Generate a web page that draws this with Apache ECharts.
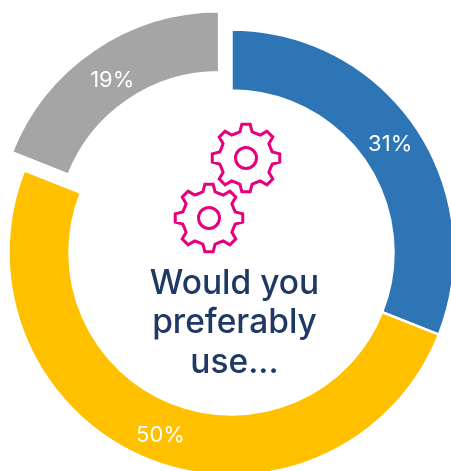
<!DOCTYPE html>
<html>
<head>
<meta charset="utf-8">
<style>html,body{margin:0;padding:0;background:#fff}#chart{width:451px;height:471px}</style>
<script src="https://cdn.jsdelivr.net/npm/echarts@6/dist/echarts.min.js"></script>
</head>
<body>
<div id="chart"></div>
<script>
// Share of respondents per option, clockwise from twelve o'clock
const shares = [31, 50, 19];
const sliceColors = ['#2E75B6', '#FFC000', '#A5A5A5'];
const detachedSlice = 2;
const centreLines = ['Would you', 'preferably', 'use...'];
// Small corrections to the label anchors inside each ring segment
const labelNudges = [[-3, 2], [1, 1], [3, 8]];

const chart = echarts.init(document.getElementById('chart'), null, { renderer: 'canvas' });

// Outline of an eight-toothed cog as a closed polygon around (cx, cy)
function cogPoints(cx, cy) {
  const tipR = 34, rootR = 27, tipHalf = 7, rootHalf = 13;
  const pts = [];
  for (let i = 0; i < 8; i++) {
    const a = i * 45;
    [[-rootHalf, rootR], [-tipHalf, tipR], [tipHalf, tipR], [rootHalf, rootR], [22.5, rootR - 0.5]].forEach(([off, r]) => {
      const t = (a + off - 90) * Math.PI / 180;
      pts.push([cx + r * Math.cos(t), cy + r * Math.sin(t)]);
    });
  }
  return pts;
}

const cogStyle = { stroke: '#E6007E', lineWidth: 3, fill: 'none', lineJoin: 'miter' };
const cogCentres = [[246, 158], [209, 218]];
const cogs = [];
cogCentres.forEach(([cx, cy]) => {
  cogs.push({ type: 'polygon', shape: { points: cogPoints(cx, cy) }, style: cogStyle, silent: true });
  cogs.push({ type: 'circle', shape: { cx, cy, r: 10.5 }, style: cogStyle, silent: true });
});

chart.setOption({
  animation: false,
  backgroundColor: '#fff',
  series: [{
    type: 'pie',
    center: [231.5, 252.5],
    radius: [162, 223],
    startAngle: 90,
    clockwise: true,
    selectedMode: 'multiple',
    selectedOffset: 22,
    avoidLabelOverlap: false,
    itemStyle: { borderColor: '#fff', borderWidth: 2.5 },
    label: {
      show: true,
      position: 'inside',
      formatter: '{c}%',
      color: '#fff',
      fontFamily: 'Inter',
      fontSize: 22,
      fontWeight: 400
    },
    labelLine: { show: false },
    emphasis: { disabled: true },
    data: shares.map((value, i) => ({
      value,
      selected: i === detachedSlice,
      itemStyle: { color: sliceColors[i] },
      label: { offset: labelNudges[i] },
      select: { label: { offset: labelNudges[i] } }
    }))
  }],
  graphic: cogs.concat([{
    type: 'text',
    x: 234.5,
    y: 323,
    silent: true,
    style: {
      text: centreLines.join('\n'),
      fill: '#1F3864',
      font: '500 33.5px Inter',
      lineHeight: 39.5,
      align: 'center',
      verticalAlign: 'middle'
    }
  }])
});
</script>
</body>
</html>
